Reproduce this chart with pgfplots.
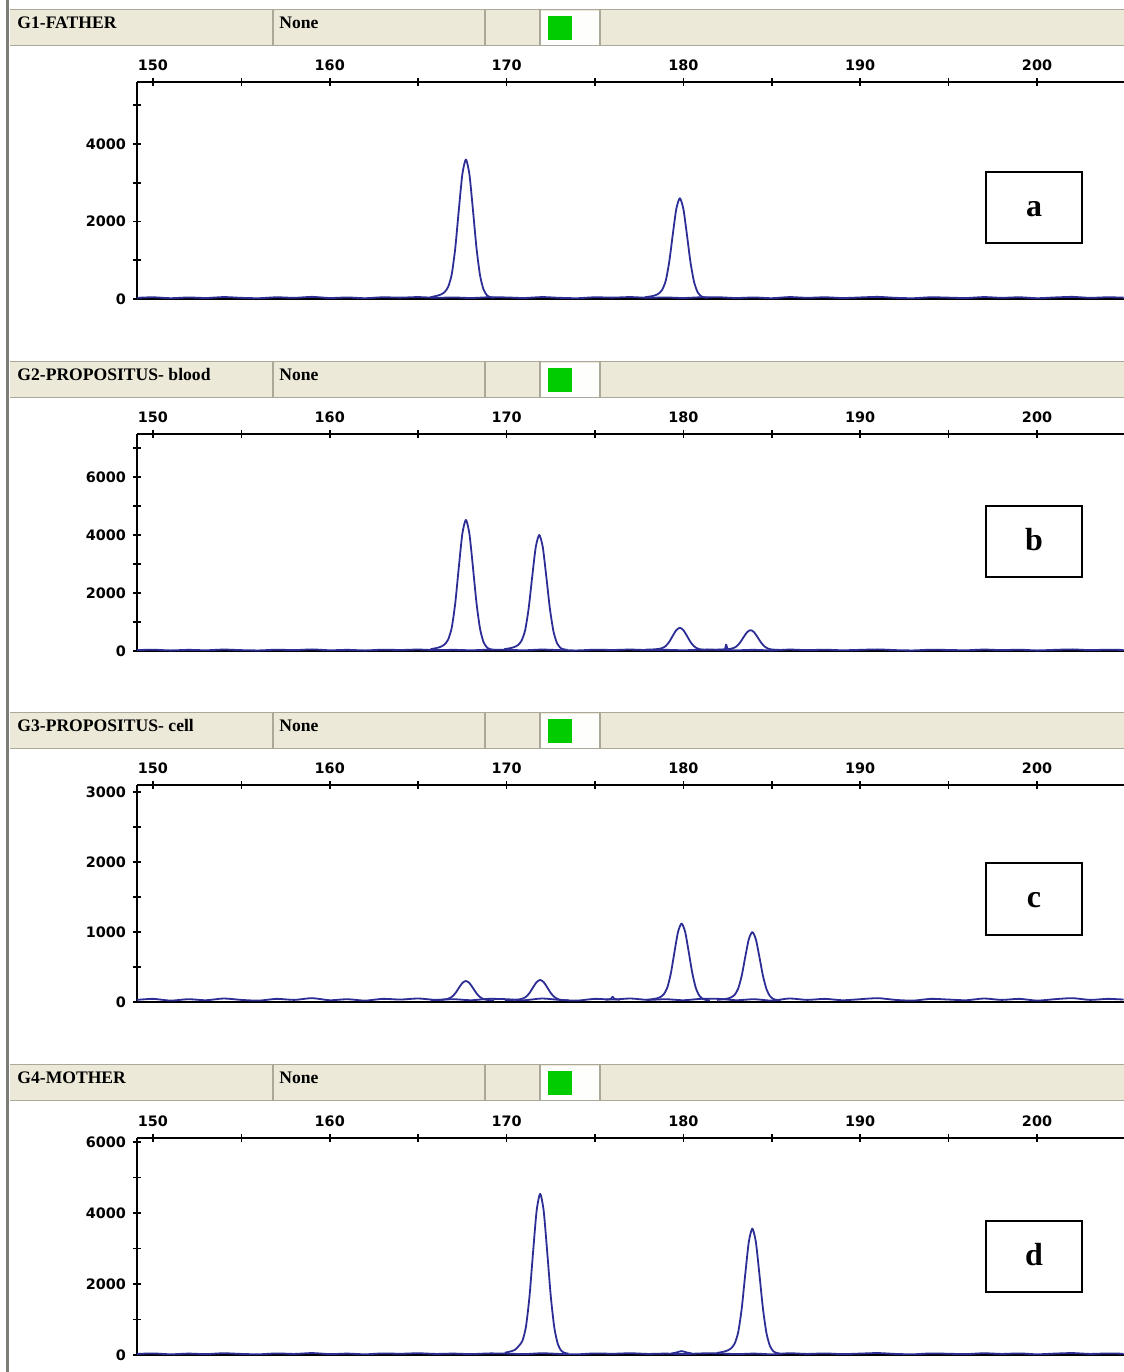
\documentclass[border=0pt]{standalone}
\usepackage{fontspec}
\setmainfont{Liberation Serif}
\newfontfamily\tickfont{DejaVu Sans}
\usepackage{pgfplots}
\pgfplotsset{compat=1.18}
\usepackage{pgfplotstable}
\definecolor{hdr}{RGB}{236,233,216}
\definecolor{hdrline}{RGB}{172,168,153}
\definecolor{trace}{RGB}{45,45,150}
\definecolor{peakgreen}{RGB}{0,204,0}
\definecolor{border}{RGB}{125,125,118}

\pgfplotstableread{
x y
149.1 30
150 45
151 20
152 40
153 25
154 50
155 30
156 20
157 45
158 30
159 55
160 25
161 40
162 20
163 45
164 35
165 50
166 30
167 40
168 25
169 45
170 40
171 25
172 50
173 30
174 20
175 45
176 35
177 50
178 30
179 40
180 25
181 45
182 45
183 25
184 40
185 20
186 50
187 30
188 45
189 25
190 40
191 55
192 30
193 20
194 45
195 35
196 25
197 50
198 30
199 45
200 20
201 40
202 55
203 30
204 45
204.9 35
}\noise

\pgfplotsset{chrom/.style={
  scale only axis, width=493.5pt, height=108.5pt,
  xmin=149.1, xmax=204.92, ymin=0, clip=false,
  axis x line*=top, axis y line*=left,
  axis line style={black, line width=0.8pt},
  xtick={150,160,170,180,190,200}, minor xtick={155,165,175,185,195},
  xticklabels={150,160,170,180,190,200},
  tick align=center, major tick length=4pt, minor tick length=4pt,
  every tick/.style={black, line width=0.8pt},
  tick label style={font=\tickfont\bfseries\fontsize{7.2}{8}\selectfont},
  /pgf/number format/assume math mode=true,
  /pgf/number format/set thousands separator={},
  scaled y ticks=false,
  every axis plot/.append style={line join=round},
}}
\tikzset{tr/.style={trace, line width=0.9pt, smooth, tension=0.4}}

\newcommand{\headerbar}[2]{%
\begin{scope}[shift={(0,#1)}]
  \fill[hdr] (10,0) rectangle (1124,-36);
  \draw[hdrline, line width=0.5pt] (10,0) -- (1124,0) (10,-36) -- (1124,-36);
  \draw[hdrline, line width=0.6pt] (273,0) -- (273,-36) (485,0) -- (485,-36);
  \fill[white!94!hdr] (540,-1) rectangle (600,-35);
  \draw[hdrline, line width=0.6pt] (540,0) -- (540,-36) (600,0) -- (600,-36);
  \fill[peakgreen] (548,-6) rectangle (572,-30);
  \node[anchor=base west, inner sep=0, font=\bfseries\fontsize{8.8}{10}\selectfont] at (17,-19) {#2};
  \node[anchor=base west, inner sep=0, font=\bfseries\fontsize{8.8}{10}\selectfont] at (279,-19) {None};
\end{scope}}

\newcommand{\labelbox}[3]{%
  \draw[black, line width=1pt] (986,#1) rectangle (1082,#2);
  \node[font=\bfseries\fontsize{16}{16}\selectfont, inner sep=0, anchor=base] at (1034,{(#1+#2)/2-9}) {#3};}

\begin{document}
\begin{tikzpicture}[x=0.5pt, y=0.5pt]
\path[use as bounding box] (0,0) rectangle (1124,1372);
\fill[white] (0,0) rectangle (1124,1372);
\fill[border] (6,0) rectangle (9,1372);

\headerbar{1362}{G1-FATHER}
\headerbar{1010}{G2-PROPOSITUS- blood}
\headerbar{659}{G3-PROPOSITUS- cell}
\headerbar{307}{G4-MOTHER}

% ---------- a ----------
\begin{axis}[chrom, at={(68.5pt,536.5pt)}, anchor=south west, ymax=5600,
  ytick={0,2000,4000}, minor ytick={1000,3000,5000}]
\addplot[black, line width=0.6pt] coordinates {(149.1,0) (204.92,0)};
\addplot[tr] table {\noise};
\addplot[tr] coordinates {
(165.7,48) (165.9,66) (166.1,87) (166.3,119) (166.5,180) (166.7,316) (166.9,637)
(167.1,1315) (167.3,2297) (167.5,3218) (167.7,3600) (167.9,3218) (168.1,2297)
(168.3,1315) (168.5,612) (168.7,241) (168.9,91) (169.1,44) (169.3,30)};
\addplot[tr] coordinates {
(177.8,43) (178.0,56) (178.2,71) (178.4,94) (178.6,138) (178.8,236) (179.0,467)
(179.2,955) (179.4,1662) (179.6,2325) (179.8,2600) (180.0,2325) (180.2,1662)
(180.4,955) (180.6,449) (180.8,182) (181.0,74) (181.2,40) (181.4,30)};
\end{axis}

% ---------- b ----------
\begin{axis}[chrom, at={(68.5pt,360.5pt)}, anchor=south west, ymax=7480,
  ytick={0,2000,4000,6000}, minor ytick={1000,3000,5000,7000}]
\addplot[black, line width=0.6pt] coordinates {(149.1,0) (204.92,0)};
\addplot[tr] table {\noise};
\addplot[tr] coordinates {
(165.7,62) (165.9,85) (166.1,112) (166.3,152) (166.5,228) (166.7,398) (166.9,802)
(167.1,1653) (167.3,2885) (167.5,4041) (167.7,4520) (167.9,4041) (168.1,2885)
(168.3,1653) (168.5,770) (168.7,304) (168.9,116) (169.1,58) (169.3,40)};
\addplot[tr] coordinates {
(169.85,60) (170.05,80) (170.25,103) (170.45,139) (170.65,206) (170.85,357) (171.05,713)
(171.25,1466) (171.45,2555) (171.65,3576) (171.85,4000) (172.05,3576) (172.25,2555)
(172.45,1466) (172.65,685) (172.85,274) (173.05,107) (173.25,56) (173.45,40)};
\addplot[tr] coordinates {
(177.8,44) (178.0,48) (178.2,52) (178.4,59) (178.6,72) (178.8,101) (179.0,169)
(179.2,314) (179.4,523) (179.6,719) (179.8,800) (180.0,719) (180.2,523)
(180.4,314) (180.6,164) (180.8,85) (181.0,53) (181.2,43) (181.4,40)};
\addplot[tr] coordinates {
(181.8,43) (182.0,47) (182.2,51) (182.35,60) (182.42,220) (182.5,62) (182.6,69)
(182.8,94) (183.0,156) (183.2,285) (183.4,472) (183.6,647) (183.8,720) (184.0,647)
(184.2,472) (184.4,285) (184.6,151) (184.8,80) (185.0,52) (185.2,43) (185.4,40)};
\end{axis}

% ---------- c ----------
\begin{axis}[chrom, at={(68.5pt,185pt)}, anchor=south west, ymax=3100,
  ytick={0,1000,2000,3000}, minor ytick={500,1500,2500}]
\addplot[black, line width=0.6pt] coordinates {(149.1,0) (204.92,0)};
\addplot[tr] table {\noise};
\addplot[tr] coordinates {
(165.7,26) (165.9,28) (166.1,29) (166.3,32) (166.5,37) (166.7,47) (166.9,72)
(167.1,124) (167.3,200) (167.5,271) (167.7,300) (167.9,271) (168.1,200)
(168.3,124) (168.5,70) (168.7,41) (168.9,30) (169.1,26) (169.3,25)};
\addplot[tr] coordinates {
(169.9,26) (170.1,28) (170.3,30) (170.5,32) (170.7,37) (170.9,48) (171.1,74)
(171.3,129) (171.5,209) (171.7,284) (171.9,315) (172.1,284) (172.3,209)
(172.5,129) (172.7,72) (172.9,42) (173.1,30) (173.3,26) (173.5,25)};
\addplot[tr] coordinates {
(175.6,30) (175.9,45) (176.0,75) (176.1,45) (176.4,30)};
\addplot[tr] coordinates {
(177.9,30) (178.1,36) (178.3,43) (178.5,52) (178.7,71) (178.9,113) (179.1,211)
(179.3,419) (179.5,720) (179.7,1003) (179.9,1120) (180.1,1003) (180.3,720)
(180.5,419) (180.7,203) (180.9,90) (181.1,44) (181.3,29) (181.5,25)};
\addplot[tr] coordinates {
(181.9,30) (182.1,35) (182.3,41) (182.5,49) (182.7,66) (182.9,103) (183.1,191)
(183.3,376) (183.5,644) (183.7,896) (183.9,1000) (184.1,896) (184.3,644)
(184.5,376) (184.7,184) (184.9,83) (185.1,42) (185.3,29) (185.5,25)};
\end{axis}

% ---------- d ----------
\begin{axis}[chrom, at={(68.5pt,8.5pt)}, anchor=south west, ymax=6110,
  ytick={0,2000,4000,6000}, minor ytick={1000,3000,5000}]
\addplot[black, line width=0.6pt] coordinates {(149.1,0) (204.92,0)};
\addplot[tr] table {\noise};
\addplot[tr] coordinates {
(169.9,63) (170.1,85) (170.3,112) (170.5,153) (170.7,260) (170.9,400) (171.1,805)
(171.3,1660) (171.5,2898) (171.7,4059) (171.9,4540) (172.1,4059) (172.3,2898)
(172.5,1660) (172.7,774) (172.9,306) (173.1,117) (173.3,58) (173.5,40)};
\addplot[tr] coordinates {
(179.3,40) (179.6,70) (179.9,110) (180.2,70) (180.5,40)};
\addplot[tr] coordinates {
(181.9,58) (182.1,75) (182.3,96) (182.5,128) (182.7,188) (182.9,322) (183.1,638)
(183.3,1307) (183.5,2275) (183.7,3183) (183.9,3560) (184.1,3183) (184.3,2275)
(184.5,1307) (184.7,614) (184.9,248) (185.1,100) (185.3,54) (185.5,40)};
\end{axis}

\labelbox{1200}{1129}{a}
\labelbox{866}{795}{b}
\labelbox{509}{437}{c}
\labelbox{151}{80}{d}
\end{tikzpicture}
\end{document}
